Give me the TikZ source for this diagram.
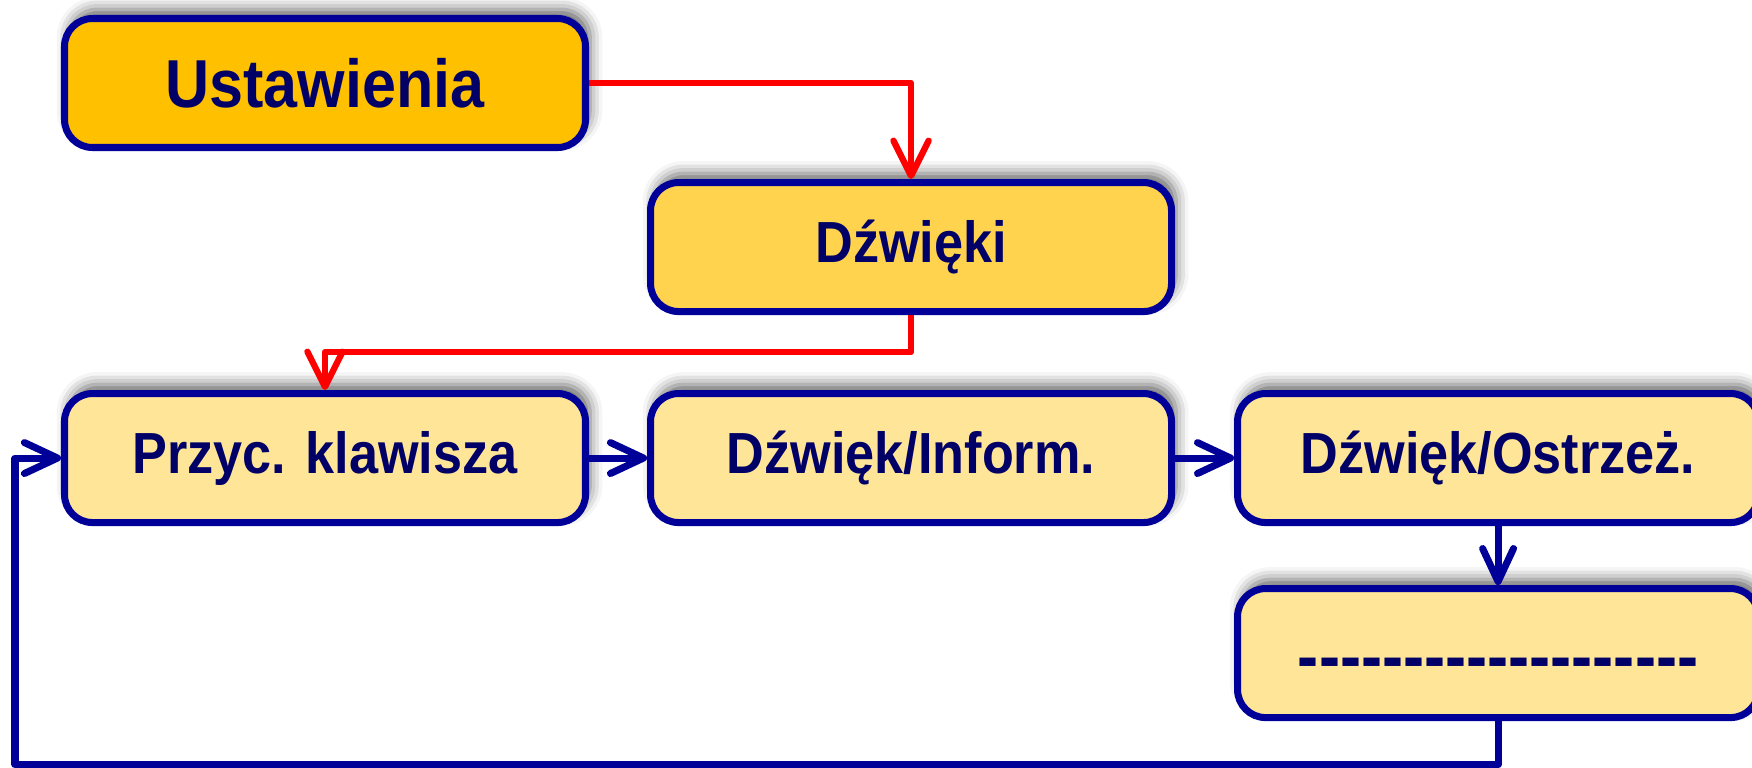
\documentclass[tikz,border=0pt]{standalone}
\usepackage{fontspec}
\setmainfont[FakeStretch=0.9]{Liberation Sans}
\usepackage{xcolor}
\usepackage{tikz}
\usetikzlibrary{arrows.meta, positioning, shadows.blur}
\definecolor{boxline}{HTML}{000099}
\definecolor{boxtext}{HTML}{000066}
\definecolor{goldtop}{HTML}{FFC000}
\definecolor{goldmid}{HTML}{FFD34D}
\definecolor{goldpale}{HTML}{FFE597}
\tikzstyle{menubox} = [rectangle, rounded corners=0.28cm, minimum width=5.21cm, minimum height=1.29cm, text centered, draw=boxline, line width=2pt, fill=goldpale, text=boxtext, font=\bfseries\fontsize{16.5}{18}\selectfont, blur shadow={shadow xshift=1.3pt, shadow yshift=2.6pt, shadow blur radius=3.5pt, shadow opacity=60}]
\tikzstyle{topbox} = [menubox, fill=goldtop, font=\bfseries\fontsize{19.3}{22}\selectfont]
\tikzstyle{redarrow} = [line width=1.8pt, draw=red, line join=round, -{Straight Barb[length=10pt,width=10pt,round]}]
\tikzstyle{bluearrow} = [line width=2pt, draw=boxline, line join=round, -{Straight Barb[length=9.4pt,width=8.8pt,round]}]

\begin{document}
\begin{tikzpicture}
    \useasboundingbox (0,0) rectangle (17.52,-7.67);
    \node[topbox] (ustaw) at (3.25,-0.83) {Ustawienia};
    \node[menubox, fill=goldmid, below right=0.28cm and 0.58cm of ustaw] (dzwieki) {Dźwięki};
    \node[menubox, below=2.39cm of ustaw] (przyc) {Przyc. klawisza};
    \node[menubox, right=0.58cm of przyc] (inform) {Dźwięk/Inform.};
    \node[menubox, right=0.59cm of inform] (ostrz) {Dźwięk/Ostrzeż.};
    \node[menubox, below=0.59cm of ostrz, font=\bfseries\fontsize{20}{22}\selectfont] (kreski) {\raisebox{-0.16cm}[\height][\depth]{\foreach \k in {1,...,19}{-\kern0pt}}};
    \coordinate (powrot) at (0.15,-7.645);

    \draw[redarrow] (ustaw) -| (dzwieki);
    \draw[redarrow] (dzwieki.south) -- ++(0,-0.37) -| (przyc.north);
    \draw[bluearrow] (przyc) -- (inform);
    \draw[bluearrow] (inform) -- (ostrz);
    \draw[bluearrow] (ostrz) -- (kreski);
    \draw[bluearrow] (kreski.south) |- (powrot) |- (przyc.west);
\end{tikzpicture}
\end{document}
